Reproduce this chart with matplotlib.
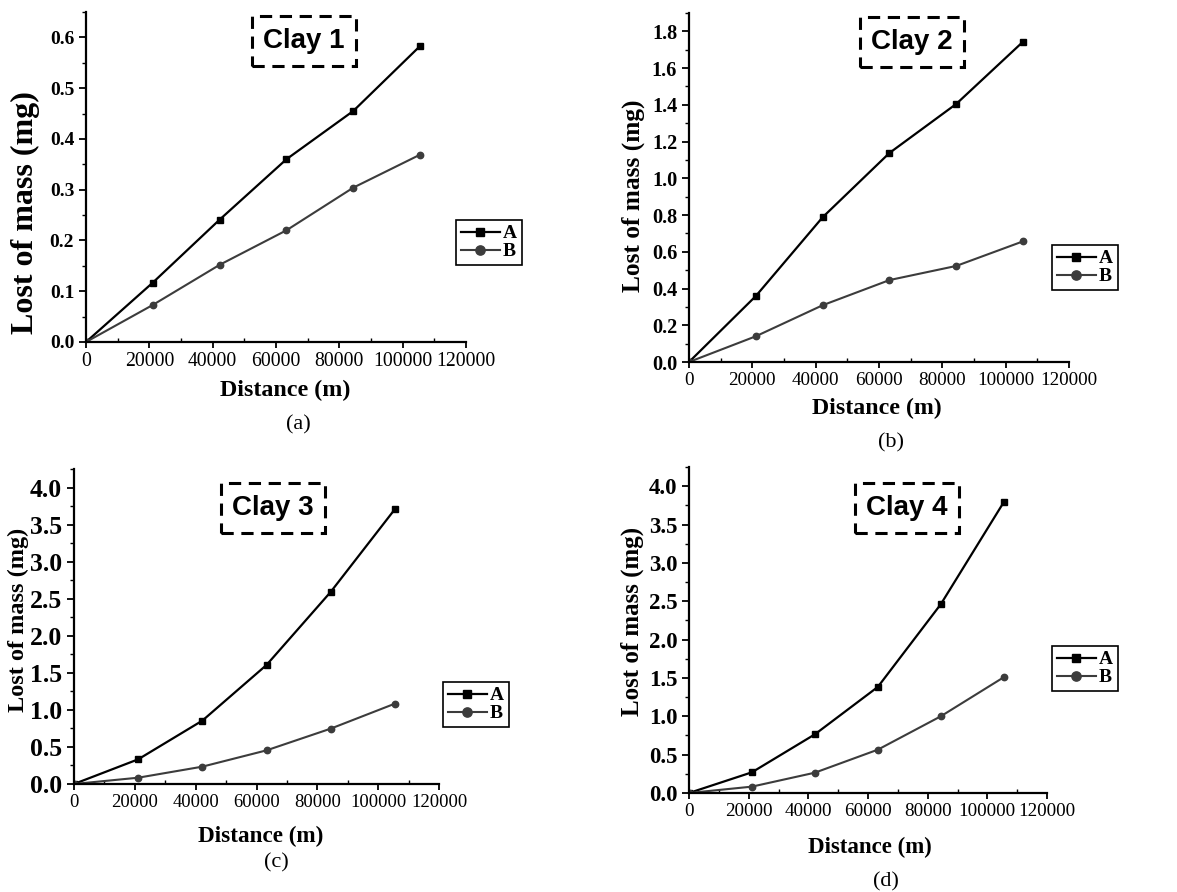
import matplotlib
matplotlib.use("Agg")
import matplotlib.pyplot as plt
from matplotlib.ticker import MultipleLocator

# data
distance = [0, 21100, 42200, 63300, 84400, 105500]

clay1_A = [0.0, 0.117, 0.241, 0.360, 0.455, 0.583]
clay1_B = [0.0, 0.073, 0.152, 0.220, 0.304, 0.369]

clay2_A = [0.0, 0.359, 0.788, 1.138, 1.405, 1.744]
clay2_B = [0.0, 0.140, 0.309, 0.446, 0.523, 0.657]

clay3_A = [0.0, 0.333, 0.855, 1.606, 2.592, 3.708]
clay3_B = [0.0, 0.085, 0.234, 0.454, 0.747, 1.084]

clay4_A = [0.0, 0.270, 0.765, 1.383, 2.461, 3.791]
clay4_B = [0.0, 0.083, 0.265, 0.565, 1.000, 1.509]

titles = ["Clay 1", "Clay 2", "Clay 3", "Clay 4"]
captions = ["(a)", "(b)", "(c)", "(d)"]
series_A = [clay1_A, clay2_A, clay3_A, clay4_A]
series_B = [clay1_B, clay2_B, clay3_B, clay4_B]
ymax = [0.65, 1.9, 4.25, 4.25]
ymajor = [0.1, 0.2, 0.5, 0.5]

W, H = 1177, 892
fig = plt.figure(figsize=(W / 100, H / 100), dpi=100)

def fx(px):
    return px / W

def fy(py):
    return 1 - py / H

# layout in pixels: (left, right, top, bottom)
boxes = [(86, 466, 12, 342), (689, 1069, 13, 362), (74, 439, 469, 784), (689, 1047, 467, 793)]
ytick_size = [14, 14.6, 18.5, 16.5]
xtick_size = [14.2, 13.8, 13.4, 13.8]
ylab_size = [23, 18.3, 17.5, 18]
xlab_size = [17.3, 17.2, 16.7, 16.5]
ylab_pos = [(25, 213), (633, 196), (18, 620), (632, 621)]
xlab_pos = [(285, 390), (877, 408), (261, 836), (870, 847)]
cap_pos = [(298, 425), (891, 443), (276, 863), (886, 882)]
leg_pos = [(456, 220), (1052, 245), (443, 682), (1052, 646)]
clay_pos = [(304, 41), (912, 42), (273, 508), (907, 508)]

serif = "Liberation Serif"

for i in range(4):
    l, r, t, b = boxes[i]
    ax = fig.add_axes([fx(l), fy(b), fx(r - l), (b - t) / H])
    ax.plot(distance, series_A[i], color="black", lw=1.6, marker="s", ms=4.2, label="A")
    ax.plot(distance, series_B[i], color="#3c3c3c", lw=1.5, marker="o", ms=4.6, label="B")
    ax.set_xlim(0, 120000)
    ax.set_ylim(0, ymax[i])
    ax.spines["top"].set_visible(False)
    ax.spines["right"].set_visible(False)
    for s in ["left", "bottom"]:
        ax.spines[s].set_linewidth(1.6)
    ax.xaxis.set_major_locator(MultipleLocator(20000))
    ax.xaxis.set_minor_locator(MultipleLocator(10000))
    ax.yaxis.set_major_locator(MultipleLocator(ymajor[i]))
    ax.yaxis.set_minor_locator(MultipleLocator(ymajor[i] / 2))
    ax.tick_params(axis="y", which="major", direction="out", length=5, width=1.3)
    ax.tick_params(axis="y", which="minor", direction="out", length=3, width=1.0)
    ax.tick_params(axis="x", which="major", direction="out", length=4, width=1.3)
    ax.tick_params(axis="x", which="minor", direction="in", length=3, width=1.0)
    ax.set_yticks(ax.get_yticks())
    ax.set_yticklabels(["%.1f" % v for v in ax.get_yticks()], fontfamily=serif,
                       fontweight="bold", fontsize=ytick_size[i])
    ax.set_ylim(0, ymax[i])
    ax.set_xticks(ax.get_xticks())
    ax.set_xticklabels(["%d" % v for v in ax.get_xticks()], fontfamily=serif,
                       fontsize=xtick_size[i])
    ax.set_xlim(0, 120000)

    fig.text(fx(ylab_pos[i][0]), fy(ylab_pos[i][1]), "Lost of mass (mg)", rotation=90,
             ha="center", va="center", fontfamily=serif, fontweight="bold", fontsize=ylab_size[i])
    fig.text(fx(xlab_pos[i][0]), fy(xlab_pos[i][1]), "Distance (m)", ha="center", va="center",
             fontfamily=serif, fontweight="bold", fontsize=xlab_size[i])
    fig.text(fx(cap_pos[i][0]), fy(cap_pos[i][1]), captions[i], ha="center", va="center",
             fontfamily=serif, fontsize=16)
    fig.text(fx(clay_pos[i][0]), fy(clay_pos[i][1]), titles[i], ha="center", va="center",
             fontfamily="Liberation Sans", fontweight="bold", fontsize=20,
             bbox=dict(boxstyle="square,pad=0.42", fc="white", ec="black", lw=2.2, ls=(0, (4, 2.5))))

    leg = ax.legend(loc="upper left", bbox_to_anchor=(fx(leg_pos[i][0]), fy(leg_pos[i][1])),
                    bbox_transform=fig.transFigure, fancybox=False, framealpha=1,
                    edgecolor="black", handlelength=2.0, handletextpad=0.15, borderpad=0.25,
                    labelspacing=0.02, borderaxespad=0, markerscale=1.45,
                    prop={"family": serif, "weight": "bold", "size": 14})
    leg.get_frame().set_linewidth(1.2)

fig.savefig("out.png", dpi=100)
